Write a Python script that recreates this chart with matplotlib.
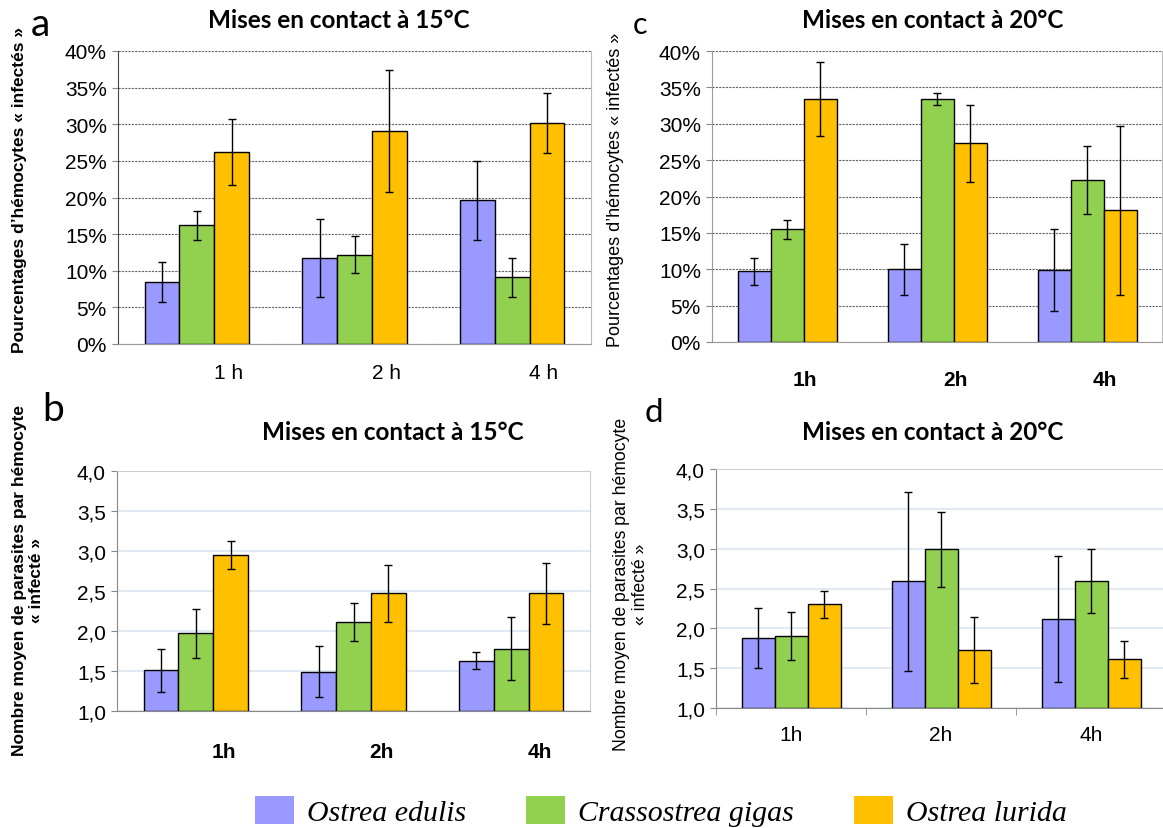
import numpy as np
import matplotlib.pyplot as plt
from matplotlib.patches import Patch

plt.rcParams['font.family'] = ['Liberation Sans', 'DejaVu Sans']

species = ['Ostrea edulis', 'Crassostrea gigas', 'Ostrea lurida']
colors = ['#9999ff', '#92d050', '#ffc000']

# a : % hemocytes infectes, 15 C
a_labels = ['1 h', '2 h', '4 h']
a_edulis = [8.5, 11.7, 19.6]
a_edulis_err = [2.7, 5.3, 5.4]
a_gigas = [16.2, 12.2, 9.1]
a_gigas_err = [2.0, 2.5, 2.7]
a_lurida = [26.2, 29.1, 30.2]
a_lurida_err = [4.5, 8.3, 4.1]

# c : % hemocytes infectes, 20 C
c_labels = ['1h', '2h', '4h']
c_edulis = [9.7, 10.0, 9.9]
c_edulis_err = [1.8, 3.5, 5.6]
c_gigas = [15.5, 33.4, 22.3]
c_gigas_err = [1.3, 0.8, 4.7]
c_lurida = [33.4, 27.3, 18.1]
c_lurida_err = [5.1, 5.3, 11.6]

# b : parasites par hemocyte, 15 C
b_labels = ['1h', '2h', '4h']
b_edulis = [1.51, 1.49, 1.63]
b_edulis_err = [0.27, 0.32, 0.11]
b_gigas = [1.97, 2.11, 1.78]
b_gigas_err = [0.31, 0.24, 0.39]
b_lurida = [2.95, 2.47, 2.47]
b_lurida_err = [0.18, 0.36, 0.38]

# d : parasites par hemocyte, 20 C
d_labels = ['1h', '2h', '4h']
d_edulis = [1.88, 2.59, 2.12]
d_edulis_err = [0.38, 1.12, 0.79]
d_gigas = [1.90, 2.99, 2.59]
d_gigas_err = [0.30, 0.47, 0.40]
d_lurida = [2.30, 1.73, 1.61]
d_lurida_err = [0.17, 0.41, 0.23]

W, H = 1163, 829
fig = plt.figure(figsize=(W / 100, H / 100), dpi=100)


def box(l, t, r, b):
    return [l / W, 1 - b / H, (r - l) / W, (b - t) / H]


def bars(ax, series, errs, base=0):
    x = np.arange(3)
    w = 0.22
    for i, (vals, err) in enumerate(zip(series, errs)):
        ax.bar(x + (i - 1) * w, np.array(vals) - base, w, bottom=base, color=colors[i],
               edgecolor='black', linewidth=1, zorder=3)
        ax.errorbar(x + (i - 1) * w, vals, yerr=err, fmt='none', ecolor='black',
                    elinewidth=1, capsize=3, capthick=1, zorder=4)
    ax.set_xlim(-0.5, 2.5)


def pct_axes(ax):
    ax.set_ylim(0, 40)
    ax.set_yticks(range(0, 41, 5))
    ax.set_yticklabels([f'{v}%' for v in range(0, 41, 5)], fontsize=15)
    ax.grid(axis='y', color='#666666', linestyle=(0, (2, 1)), linewidth=0.8, zorder=0)
    ax.spines['top'].set_visible(False)
    ax.spines['right'].set_color('#bbbbbb')
    ax.spines['bottom'].set_color('#999999')
    ax.spines['left'].set_color('#444444')
    ax.spines['left'].set_linestyle((0, (4, 1)))
    ax.tick_params(axis='y', length=4, color='#888888', pad=4)


def num_axes(ax):
    ax.set_ylim(1, 4)
    ticks = np.arange(1.0, 4.01, 0.5)
    ax.set_yticks(ticks)
    ax.set_yticklabels([f'{v:.1f}'.replace('.', ',') for v in ticks], fontsize=15)
    ax.grid(axis='y', color='#dce6f0', linewidth=1.2, zorder=0)
    for s in ['top', 'right']:
        ax.spines[s].set_color('#cccccc')
    for s in ['left', 'bottom']:
        ax.spines[s].set_color('#888888')
    ax.tick_params(axis='y', length=4, color='#888888', pad=4)


# panel a
ax = fig.add_axes(box(118, 52, 591, 345))
bars(ax, [a_edulis, a_gigas, a_lurida], [a_edulis_err, a_gigas_err, a_lurida_err])
pct_axes(ax)
ax.set_xticks(np.arange(3) + 0.2)
ax.set_xticklabels(a_labels, fontsize=15)
ax.tick_params(axis='x', length=0, pad=14)

# panel c
ax = fig.add_axes(box(712, 52, 1162, 343))
bars(ax, [c_edulis, c_gigas, c_lurida], [c_edulis_err, c_gigas_err, c_lurida_err])
pct_axes(ax)
ax.spines['left'].set_linestyle('-')
ax.spines['left'].set_color('#999999')
ax.set_xticks(np.arange(3) + 0.12)
ax.set_xticklabels(c_labels, fontsize=15, fontweight='bold')
ax.tick_params(axis='x', length=0, pad=20)

# panel b
ax = fig.add_axes(box(117, 472, 590, 712))
bars(ax, [b_edulis, b_gigas, b_lurida], [b_edulis_err, b_gigas_err, b_lurida_err], base=1)
num_axes(ax)
ax.set_xticks(np.arange(3) + 0.18)
ax.set_xticklabels(b_labels, fontsize=15, fontweight='bold')
ax.tick_params(axis='x', length=0, pad=22)

# panel d
ax = fig.add_axes(box(716, 470, 1166, 709))
bars(ax, [d_edulis, d_gigas, d_lurida], [d_edulis_err, d_gigas_err, d_lurida_err], base=1)
num_axes(ax)
ax.set_xticks(np.arange(3))
ax.set_xticklabels(d_labels, fontsize=15)
ax.set_xticks([-0.5, 0.5, 1.5, 2.5], minor=True)
ax.tick_params(axis='x', which='major', length=0, pad=12)
ax.tick_params(axis='x', which='minor', length=5, color='#888888')

# titles, letters, axis labels
for x, y, t in [(339, 20, 'Mises en contact à 15°C'), (933, 20, 'Mises en contact à 20°C'),
                (393, 433, 'Mises en contact à 15°C'), (933, 433, 'Mises en contact à 20°C')]:
    fig.text(x / W, 1 - y / H, t, ha='center', va='center', fontsize=17.5,
             fontweight='bold', family='Lato')

for x, y, t, s in [(40, 25, 'a', 28), (640, 25, 'c', 22), (53, 410, 'b', 28), (654, 413, 'd', 24)]:
    fig.text(x / W, 1 - y / H, t, ha='center', va='center', fontsize=s, family='Lato')

fig.text(20 / W, 1 - 190 / H, 'Pourcentages d\u2019hémocytes « infectés »', rotation=90,
         ha='center', va='center', fontsize=12.5, fontweight='bold')
fig.text(615 / W, 1 - 190 / H, 'Pourcentages d\u2019hémocytes « infectés »', rotation=90,
         ha='center', va='center', fontsize=13)
fig.text(28 / W, 1 - 581 / H, 'Nombre moyen de parasites par hémocyte\n« infecté »',
         rotation=90, ha='center', va='center', fontsize=12.5, fontweight='bold',
         multialignment='center', linespacing=1.1)
fig.text(631 / W, 1 - 584 / H, 'Nombre moyen de parasites par hémocyte\n« infecté »',
         rotation=90, ha='center', va='center', fontsize=12.7,
         multialignment='center', linespacing=1.1)

handles = [Patch(facecolor=c, edgecolor='none') for c in colors]
fig.legend(handles, species, loc='center', bbox_to_anchor=(661 / W, 1 - 812 / H), ncol=3,
           frameon=False, handlelength=1.3, handleheight=1.05, handletextpad=0.45,
           columnspacing=2.0, borderpad=0.1,
           prop={'family': 'Liberation Serif', 'style': 'italic', 'size': 21.5})

fig.savefig('out.png', dpi=100)
